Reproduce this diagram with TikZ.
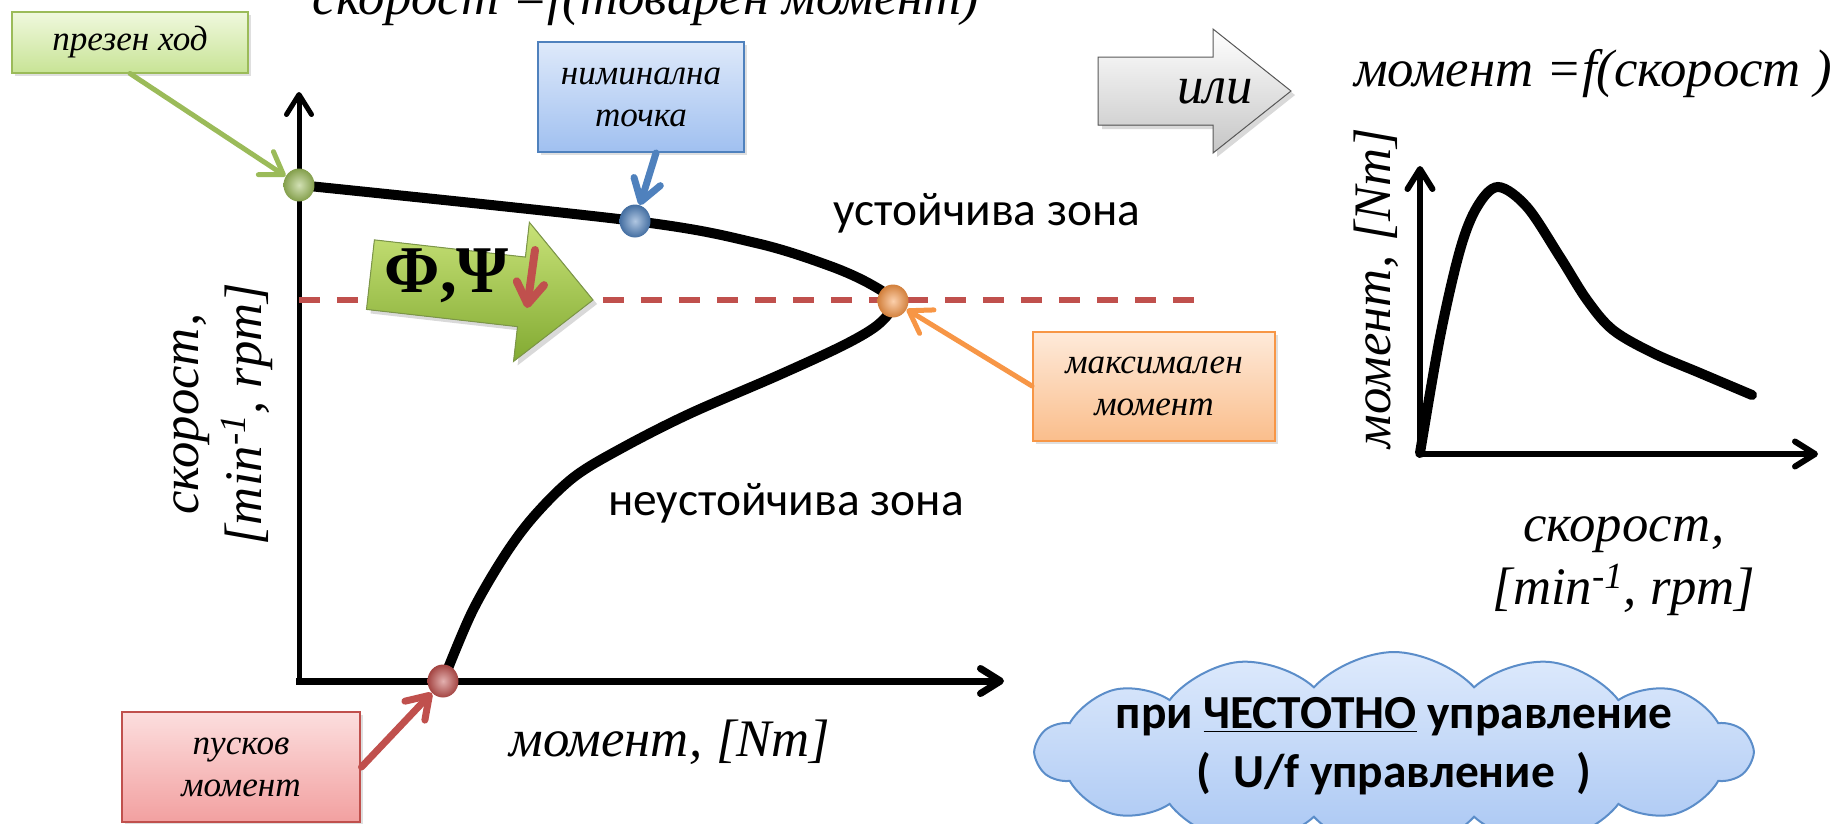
\documentclass[tikz,border=0pt]{standalone}
\usepackage{fontspec}
\setmainfont{Liberation Serif}
\newfontfamily\calibri{Carlito}
\usetikzlibrary{arrows.meta}
\usetikzlibrary{calc}
\usetikzlibrary{shapes.geometric,shapes.symbols,shadows}
\tikzset{>=latex}
\definecolor{presgreen}{RGB}{155,187,89}
\definecolor{presgreentop}{RGB}{240,248,222}
\definecolor{presgreenbot}{RGB}{200,228,150}
\definecolor{nomblue}{RGB}{79,129,189}
\definecolor{nombluetop}{RGB}{222,233,250}
\definecolor{nombluebot}{RGB}{160,192,240}
\definecolor{maxorange}{RGB}{247,150,70}
\definecolor{maxorangetop}{RGB}{254,234,218}
\definecolor{maxorangebot}{RGB}{250,190,140}
\definecolor{startred}{RGB}{192,80,77}
\definecolor{startredtop}{RGB}{252,222,222}
\definecolor{startredbot}{RGB}{242,160,160}
\definecolor{cloudblue}{RGB}{91,141,201}
\tikzset{
  label text/.style={font=\fontsize{30}{36}\selectfont\itshape, align=center, inner sep=0pt},
  zone text/.style={font=\fontsize{27}{32}\selectfont\calibri, inner sep=0pt},
  notebox/.style={draw=#1, line width=0.04cm, top color=#1top, bottom color=#1bot,
    font=\fontsize{20}{24}\selectfont\itshape, align=center,
    drop shadow={opacity=0.25, shadow xshift=0.06cm, shadow yshift=-0.06cm}},
  ballpt/.style={ellipse, minimum width=0.62cm, minimum height=0.66cm, inner sep=0pt,
    inner color=#1!45!white, outer color=#1!85!black},
  pointer/.style={draw=#1, line width=0.1cm, line cap=round,
    -{Straight Barb[length=0.42cm, width=0.55cm, round]}},
  axis line/.style={line width=0.12cm, -{Straight Barb[length=0.4cm, width=0.5cm, round]}},
}

\begin{document}
\begin{tikzpicture}[x=0.02cm, y=-0.02cm]
  \useasboundingbox (0,0) rectangle (1837,823);
  % left chart: speed = f(torque)
  \node[label text, anchor=base] (title) at (646,14) {скорост =f(товарен момент)};
  \draw[axis line, line width=0.1cm] (299,683) -- (299,92);
  \draw[axis line, line width=0.14cm] (296,681) -- (1004,681);
  \coordinate (dashstart) at (299,300);
  \coordinate (dashend) at (1195,300);
  \draw[startred, line width=0.11cm, dash pattern=on 0.42cm off 0.34cm] (dashstart) -- (dashend);
  \draw[line width=0.2cm, line cap=round] plot[smooth, tension=0.55] coordinates {(299,185) (635,221) (756,243) (830,266) (872,285) (893,302) (880,323) (846,344) (779,375) (689,414) (622,448) (574,477) (535,515) (505,555) (472,612) (443,681)};
  \begin{scope}[shift={(593,300)}, rotate=-6.5]
    \filldraw[draw=presgreen!80!black, line width=0.02cm, top color={rgb,255:red,200;green,226;blue,120}, bottom color={rgb,255:red,130;green,170;blue,50}, drop shadow={opacity=0.3}]
    (0,0) -- (-72,-70) -- (-72,-35) -- (-224,-35) -- (-224,35) -- (-72,35) -- (-72,70) -- cycle;
  \end{scope}
  \node[font=\fontsize{38}{40}\selectfont\bfseries] (flux) at (447,276) {Φ,Ψ};
  \coordinate (fluxtop) at (535,250);
  \coordinate (fluxbot) at (527,308);
  \draw[pointer=startred, line width=0.16cm] (fluxtop) -- (fluxbot);
  \node[ballpt=presgreen] (hoddot) at (299,185) {};
  \node[ballpt=nomblue] (nomdot) at (635,221) {};
  \node[ballpt=maxorange] (maxdot) at (893,301) {};
  \node[ballpt=startred] (startdot) at (443,681) {};
  \node[notebox=presgreen, minimum width=4.72cm, minimum height=1.22cm] (hodbox) at (130,42) {презен ход};
  \node[notebox=nomblue, minimum width=4.14cm, minimum height=2.2cm] (nombox) at (641,97) {ниминална\\точка};
  \node[notebox=maxorange, minimum width=4.84cm, minimum height=2.18cm] (maxbox) at (1154,386) {максимален\\момент};
  \node[notebox=startred, minimum width=4.78cm, minimum height=2.2cm] (startbox) at (241,767) {пусков\\момент};
  \draw[pointer=presgreen] (hodbox.south) -- (hoddot);
  \draw[pointer=nomblue, line width=0.14cm] (nombox.-75) -- (nomdot);
  \draw[pointer=maxorange] (maxbox.west) -- (maxdot);
  \draw[pointer=startred, line width=0.14cm] (startbox.east) -- (startdot);
  \node[zone text] (stable) at (987,213) {устойчива зона};
  \node[zone text] (unstable) at (786,503) {неустойчива зона};
  \node[label text] (ltorque) at (670,742) {момент, [Nm]};
  \node[label text, rotate=90] (lspeed) at (223,414) {скорост,\\{[}min\textsuperscript{-1}, rpm{]}};
  % right chart: torque = f(speed)
  \filldraw[draw=gray!70!black, line width=0.02cm, top color=white, bottom color=gray!45, drop shadow={opacity=0.3}]
  (1098,57) -- (1213,57) -- (1213,29) -- (1291,91) -- (1213,153) -- (1213,125) -- (1098,125) -- cycle;
  \node[label text] (ili) at (1215,91) {или};
  \node[label text] (rform) at (1593,74) {момент =f(скорост )};
  \draw[axis line] (1420,457) -- (1420,166);
  \draw[axis line] (1417,454) -- (1818,454);
  \draw[line width=0.2cm, line cap=round] plot[smooth, tension=0.55] coordinates {(1420,453) (1440,337) (1460,250) (1477,207) (1498,187) (1527,207) (1560,257) (1587,300) (1613,330) (1653,353) (1700,373) (1752,395)};
  \node[label text, rotate=90] (rtorque) at (1376,288) {момент, [Nm]};
  \node[label text] (rspeed) at (1624,566) {скорост,\\{[}min\textsuperscript{-1}, rpm{]}};
  \node[cloud, cloud puffs=14, cloud puff arc=95, cloud ignores aspect, minimum width=14.3cm, minimum height=4cm, draw=cloudblue, line width=0.04cm, top color={rgb,255:red,222;green,234;blue,252}, bottom color={rgb,255:red,168;green,198;blue,243}] (ctrlcloud) at (1394,752) {};
  \node[font=\fontsize{27}{33.5}\selectfont\calibri\bfseries, align=center] (ctrltext) at (1394,746) {при \underline{ЧЕСТОТНО} управление\\( \ U/f управление \ )};
\end{tikzpicture}
\end{document}
